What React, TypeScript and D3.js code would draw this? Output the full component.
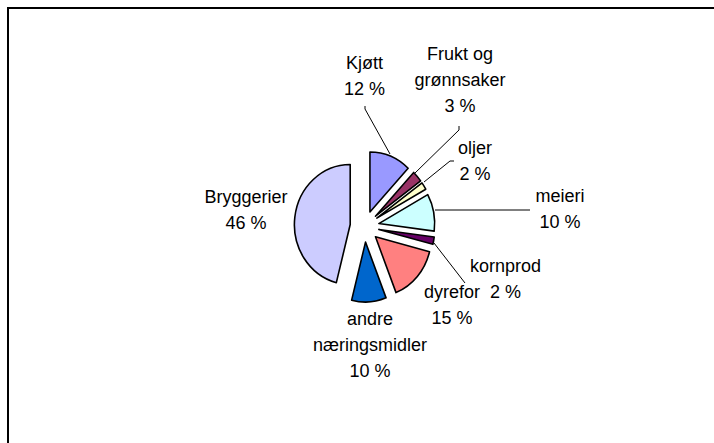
import React from "react";
import * as d3 from "d3";

const categories = ["Kjøtt", "Frukt og grønnsaker", "oljer", "meieri", "kornprod", "dyrefor", "andre næringsmidler", "Bryggerier"];
const values = [12, 3, 2, 10, 2, 15, 10, 46];
const labelLines = [["Kjøtt"], ["Frukt og", "grønnsaker"], ["oljer"], ["meieri"], ["kornprod"], ["dyrefor"], ["andre", "næringsmidler"], ["Bryggerier"]];
const colors = ["#9999FF", "#993366", "#FFFFCC", "#CCFFFF", "#660066", "#FF8080", "#0066CC", "#CCCCFF"];

// layout (label anchor centre x, first baseline y)
const labelPos: [number, number][] = [
  [364.5, 69], [460, 60], [475, 154], [560, 202], [505.5, 272], [452, 298], [370, 325], [246, 203],
];
const leaders: [number, number][][] = [
  [[365, 106], [365, 109], [390, 154]],
  [[459, 126], [459, 130], [415, 173]],
  [[454, 161], [450, 161], [424, 182]],
  [[530, 210], [435, 210]],
  [[434, 243], [465, 283]],
];

const W = 714, H = 443;
const cx = 364.6, cy = 226.5, R = 60, sx = 0.93, explode = 15.6, lineGap = 26;

export default function App() {
  const pie = d3.pie<number>().sort(null).value((d) => d)(values);
  const arc = d3.arc<d3.PieArcDatum<number>>().innerRadius(0).outerRadius(R);
  const line = d3.line();
  return (
    <svg width={W} height={H} style={{ position: "absolute", left: 0, top: 0, background: "#fff" }}
      fontFamily="'Liberation Sans', Arial, sans-serif" fontSize={18}>
      <rect x={0} y={0} width={W} height={H} fill="#fff" />
      <rect x={8} y={8} width={W + 50} height={H + 50} fill="none" stroke="#000" strokeWidth={2} />
      <g transform={`translate(${cx},${cy}) scale(${sx},1)`}>
        {pie.map((p, i) => {
          const mid = (p.startAngle + p.endAngle) / 2;
          const dx = explode * Math.sin(mid), dy = -explode * Math.cos(mid);
          return (
            <path key={i} d={arc(p) || ""} transform={`translate(${dx},${dy})`} fill={colors[i]}
              stroke="#000" strokeWidth={1.6} vectorEffect="non-scaling-stroke" strokeLinejoin="round" />
          );
        })}
      </g>
      {leaders.map((pts, i) => (
        <path key={i} d={line(pts) || ""} fill="none" stroke="#000" strokeWidth={1} />
      ))}
      {categories.map((c, i) => {
        const lines = [...labelLines[i], `${values[i]} %`];
        const [lx, ly] = labelPos[i];
        return (
          <text key={c} x={lx} y={ly} textAnchor="middle" fill="#000">
            {lines.map((t, j) => (
              <tspan key={j} x={lx} y={ly + j * lineGap}>{t}</tspan>
            ))}
          </text>
        );
      })}
    </svg>
  );
}
